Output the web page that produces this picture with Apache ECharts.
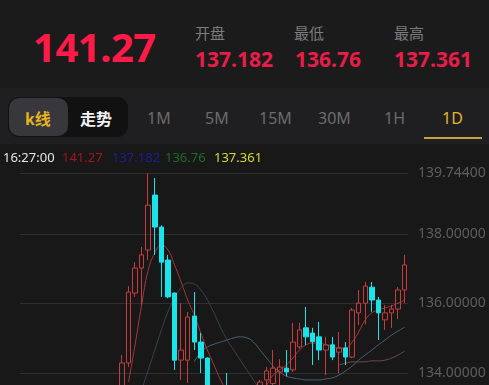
<!DOCTYPE html>
<html lang="zh">
<head>
    <meta charset="UTF-8">
    <title>K线</title>
    <script src="https://cdn.jsdelivr.net/npm/echarts@6/dist/echarts.min.js"></script>
    <style>
        html, body {
            margin: 0;
            padding: 0;
            width: 489px;
            height: 385px;
            overflow: hidden;
            background: #181818;
            font-family: "Noto Sans", "Noto Sans CJK SC", sans-serif;
        }
        .abs { position: absolute; white-space: nowrap; }
        .head { left: 0; top: 0; width: 489px; height: 88px; background: #1b1b1b; }
        .price { left: 33px; top: 27px; font-size: 40px; line-height: 40px; font-weight: bold; color: #ff1a48; letter-spacing: -0.5px; }
        .lbl { top: 25px; font-size: 15px; line-height: 16px; color: #7d7d7d; font-family: "Noto Sans CJK SC", sans-serif; }
        .val { top: 49px; font-size: 21px; line-height: 21px; font-weight: bold; color: #e81d48; }
        .tabs { left: 0; top: 88px; width: 489px; height: 56px; background: #1f1f21; }
        .group { left: 8px; top: 97px; width: 120px; height: 40px; border-radius: 11px; background: #111112; }
        .sel { left: 9px; top: 98px; width: 59px; height: 38px; border-radius: 10px; background: #38383c; }
        .tab { top: 109px; font-size: 16px; line-height: 18px; color: #6b6b6b; }
        .cn { font-family: "Noto Sans CJK SC", sans-serif; font-weight: bold; }
        .under { left: 424px; top: 137px; width: 58px; height: 2px; background: #c9a03c; }
        .info { top: 150px; font-size: 13px; line-height: 14px; }
        #kline { position: absolute; left: 0; top: 145px; width: 489px; height: 320px; }
    </style>
</head>
<body>
<div class="abs head"></div>
<div class="abs price">141.27</div>
<div class="abs lbl" style="left:195px">开盘</div>
<div class="abs lbl" style="left:294px">最低</div>
<div class="abs lbl" style="left:394px">最高</div>
<div class="abs val" style="left:195px">137.182</div>
<div class="abs val" style="left:295px">136.76</div>
<div class="abs val" style="left:394px">137.361</div>

<div class="abs tabs"></div>
<div class="abs group"></div>
<div class="abs sel"></div>
<div class="abs tab cn" style="left:25px;color:#e6b21e">k线</div>
<div class="abs tab cn" style="left:80px;color:#f2f2f2">走势</div>
<div class="abs tab" style="left:147px">1M</div>
<div class="abs tab" style="left:205px">5M</div>
<div class="abs tab" style="left:259px">15M</div>
<div class="abs tab" style="left:318px">30M</div>
<div class="abs tab" style="left:384px">1H</div>
<div class="abs tab" style="left:442px;color:#e2b330">1D</div>
<div class="abs under"></div>

<div id="kline"></div>

<div class="abs info" style="left:3px;color:#e6e6e6">16:27:00</div>
<div class="abs info" style="left:62px;color:#a3161b">141.27</div>
<div class="abs info" style="left:112px;color:#1d1d9e">137.182</div>
<div class="abs info" style="left:165px;color:#1d6a2b">136.76</div>
<div class="abs info" style="left:214px;color:#d9d92c">137.361</div>

<script>
    // 59 daily slots, the first 15 sit below the visible price range
    var slotCount = 59;
    var firstShown = 15;

    // [open, close, lowest, highest] from slot 15 on; null = hidden below the chart
    var candles = [
        [133.40, 134.29, 133.10, 134.52],
        [134.29, 136.33, 134.17, 136.50],
        [136.30, 137.02, 136.19, 137.19],
        [137.02, 137.40, 135.96, 137.63],
        [137.54, 138.83, 137.25, 139.744],
        [139.12, 138.20, 137.40, 139.61],
        [138.20, 137.19, 136.19, 138.25],
        [137.25, 136.19, 136.15, 137.40],
        [136.30, 134.37, 134.09, 136.32],
        [134.37, 134.66, 133.80, 136.01],
        [134.37, 135.61, 133.71, 135.76],
        [135.64, 134.89, 134.66, 136.33],
        [134.89, 134.43, 134.00, 135.15],
        [134.43, 133.40, 133.20, 134.45],
        null,
        null,
        [133.55, 133.30, 133.10, 134.00],
        null,
        null,
        null,
        null,
        [133.40, 133.74, 133.20, 133.80],
        [133.80, 134.06, 133.50, 134.17],
        [133.70, 134.14, 133.55, 134.66],
        [134.03, 134.17, 133.60, 134.40],
        [134.14, 134.03, 133.90, 134.66],
        [134.09, 134.89, 134.03, 135.44],
        [134.75, 135.24, 134.70, 135.44],
        [135.30, 135.04, 134.81, 135.90],
        [135.15, 134.90, 134.23, 135.30],
        [135.04, 134.66, 134.37, 135.47],
        [134.66, 134.81, 133.94, 135.04],
        [134.81, 134.46, 134.37, 135.04],
        [134.60, 134.72, 134.00, 135.18],
        [134.72, 134.46, 134.23, 134.89],
        [134.46, 135.81, 134.43, 135.87],
        [135.73, 136.01, 135.38, 136.39],
        [136.01, 136.50, 135.40, 136.62],
        [136.47, 136.10, 135.76, 136.62],
        [136.10, 135.73, 134.95, 136.19],
        [135.53, 135.73, 135.24, 135.96],
        [135.73, 135.84, 135.30, 135.96],
        [135.84, 136.39, 135.55, 136.47],
        [136.39, 137.11, 136.01, 137.40]
    ];

    // moving average lines, also from slot 15 on
    var maFast = [null, 133.74, 134.81, 135.96, 136.96, 137.45, 137.68, 137.54, 137.11, 136.62, 136.10,
        135.67, 135.15, 134.66, 134.23, 133.80, 133.45, null, null, null, null, 133.37, 133.65, 133.94,
        134.09, 134.23, 134.43, 134.66, 134.81, 134.86, 134.86, 134.81, 134.75, 134.72, 134.72, 134.89,
        135.18, 135.53, 135.73, 135.81, 135.87, 135.93, 136.01, 136.10];
    var maMid = [null, null, null, 133.51, 134.09, 134.66, 135.24, 135.76, 136.16, 136.45, 136.59,
        136.56, 136.39, 136.10, 135.73, 135.32, 134.95, 134.66, 134.37, 134.09, 133.80, 133.51];
    var maSlow = [null, null, null, null, null, null, null, null, null, null, null, 134.32, 134.60,
        134.75, 134.83, 134.89, 134.95, 135.01, 135.04, 135.01, 134.89, 134.66, 134.43, 134.20, 134.03,
        133.91, 133.86, 133.83, 133.80, 133.80, 133.80, 133.83, 133.86, 133.94, 134.06, 134.20, 134.37,
        134.52, 134.66, 134.81, 134.95, 135.09, 135.21, 135.32];
    var maLong = [null, null, null, null, null, null, null, null, null, null, null, null, null, null,
        null, null, null, null, null, null, null, null, null, null, null, null, null, null, null, null,
        null, null, null, 134.23, 134.28, 134.32, 134.32, 134.32, 134.35, 134.35, 134.37, 134.43, 134.52,
        134.63];

    var yTop = 139.744;
    var yBottom = 132;
    var yStep = 2;

    var slots = [];
    for (var s = 0; s < slotCount; s++) {
        slots.push(String(s + 1));
    }

    function place(list, empty) {
        var out = [];
        for (var k = 0; k < slotCount; k++) {
            var v = list[k - firstShown];
            out.push(k < firstShown || v == null ? empty : v);
        }
        return out;
    }

    function maSeries(name, list, color) {
        return {
            name: name,
            type: 'line',
            data: place(list, '-'),
            smooth: true,
            symbol: 'none',
            lineStyle: {color: color, width: 1},
            z: 1
        };
    }

    var chart = echarts.init(document.getElementById('kline'));
    chart.setOption({
        animation: false,
        backgroundColor: 'transparent',
        grid: {left: 20, right: 81, top: 28.4, bottom: 22.5},
        xAxis: {
            type: 'category',
            data: slots,
            boundaryGap: true,
            axisLine: {show: false},
            axisTick: {show: false},
            axisLabel: {show: false},
            splitLine: {show: false}
        },
        yAxis: {
            type: 'value',
            position: 'right',
            min: yBottom,
            max: yTop,
            interval: yStep,
            axisLine: {show: false},
            axisTick: {show: false},
            splitLine: {lineStyle: {color: '#2f2f2f', width: 1}},
            axisLabel: {
                color: '#5e5e5e',
                fontSize: 14,
                margin: 10,
                fontFamily: 'Noto Sans',
                formatter: function (v) {
                    return v.toFixed(5);
                }
            }
        },
        series: [
            maSeries('MA30', maLong, '#6e4c48'),
            maSeries('MA20', maSlow, '#4b6272'),
            maSeries('MA10', maMid, '#3c434b'),
            maSeries('MA5', maFast, '#a5383c'),
            {
                name: 'K',
                type: 'candlestick',
                data: place(candles, ['-', '-', '-', '-']),
                barWidth: 5,
                z: 3,
                itemStyle: {
                    color: 'rgba(0,0,0,0)',
                    color0: '#18e4ea',
                    borderColor: '#c63c3c',
                    borderColor0: '#18e4ea',
                    borderWidth: 1
                }
            }
        ]
    });
</script>
</body>
</html>
